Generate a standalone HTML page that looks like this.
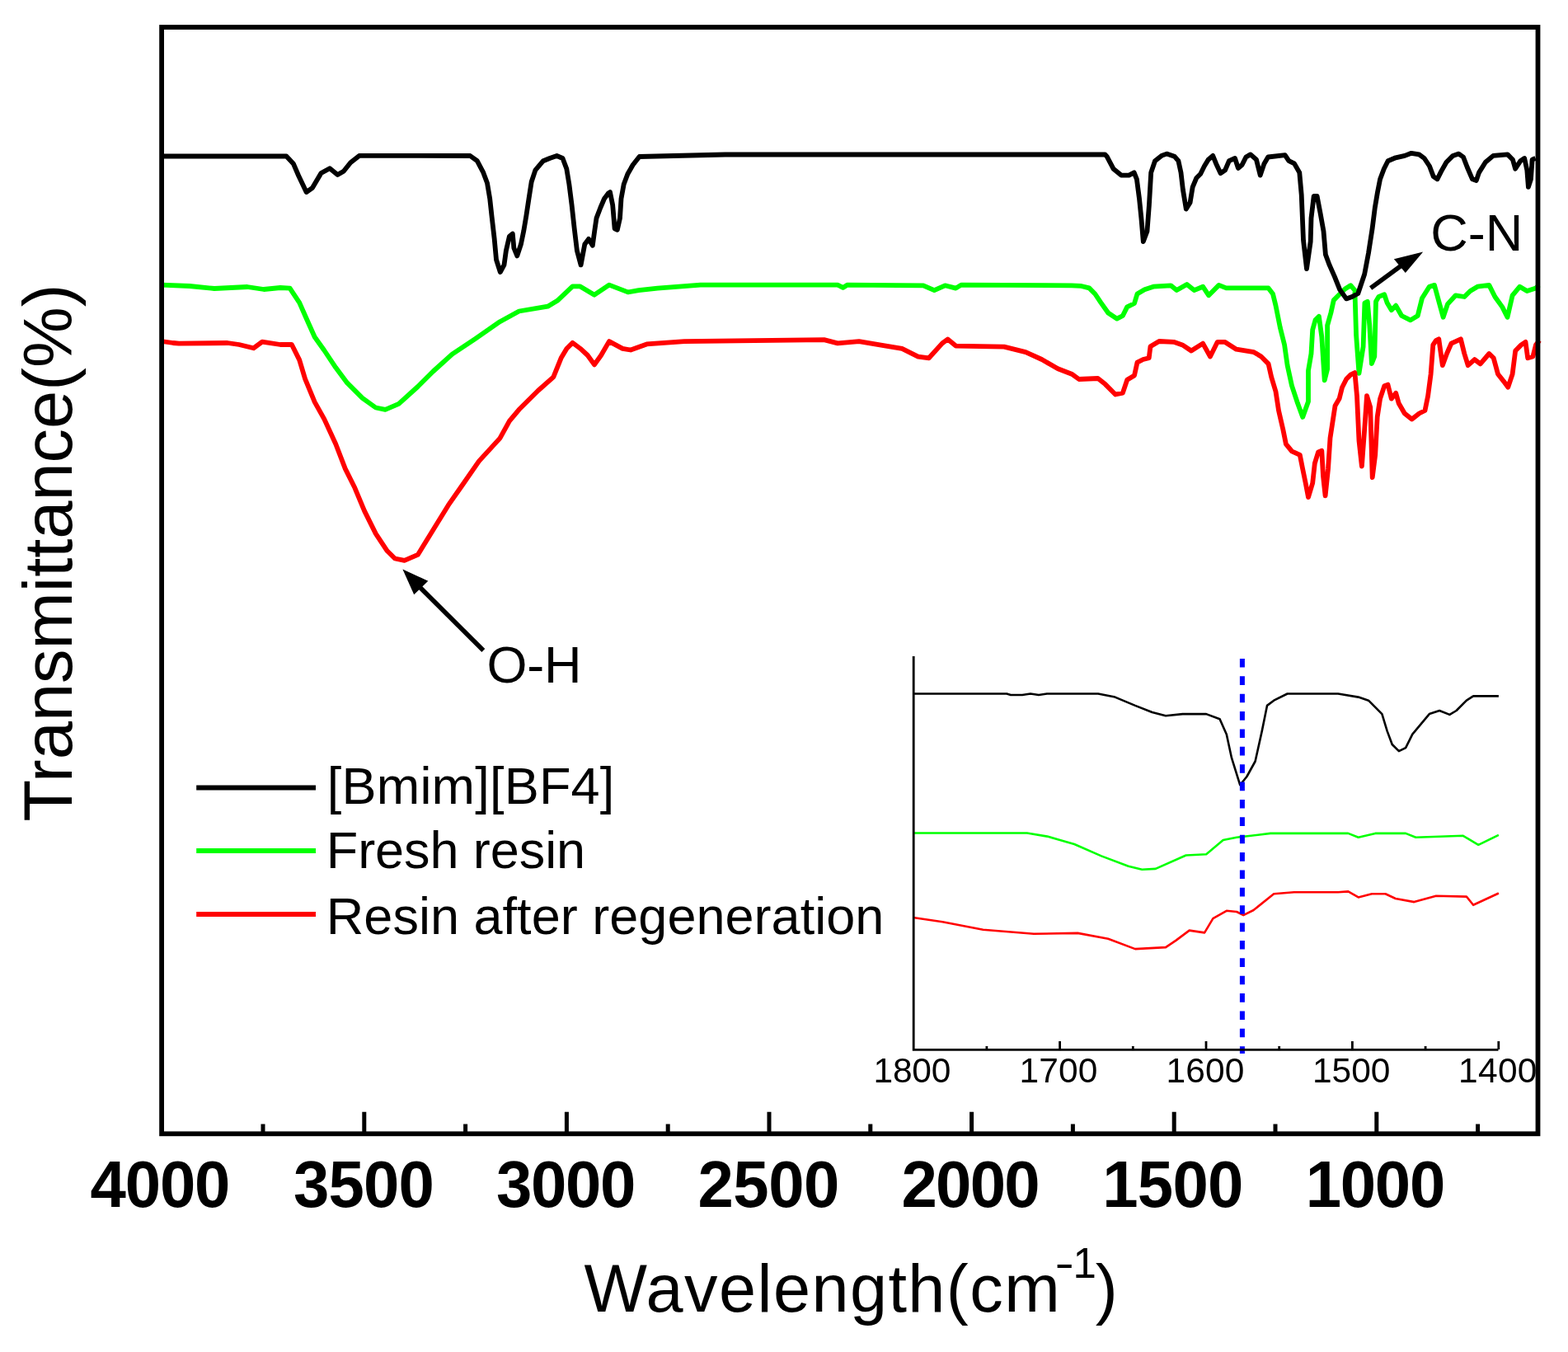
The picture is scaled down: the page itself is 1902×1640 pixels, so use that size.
<!DOCTYPE html>
<html><head><meta charset="utf-8"><title>FTIR spectra</title><style>
html,body{margin:0;padding:0;background:#fff;width:1902px;height:1640px;overflow:hidden}
svg{display:block}
text{font-family:"Liberation Sans",Arial,Helvetica,sans-serif;fill:#000}
</style></head><body>
<svg width="1902" height="1640" viewBox="0 0 1902 1640">
<rect x="0" y="0" width="1902" height="1640" fill="#fff"/>
<g fill="none" stroke-width="5.8" stroke-linejoin="round" stroke-linecap="butt">
<path stroke="#00ff00" d="M196.0,345.6 L230.0,347.0 L260.0,350.0 L300.0,348.0 L320.0,351.0 L340.0,349.0 L351.6,349.7 L363.2,367.1 L372.4,388.0 L381.7,408.8 L393.3,425.0 L407.2,445.8 L421.1,464.4 L439.6,482.9 L455.8,494.5 L467.4,496.8 L483.7,489.9 L506.8,469.0 L525.4,450.5 L548.5,429.6 L576.3,411.1 L606.4,390.2 L629.6,377.5 L664.4,371.7 L676.0,364.8 L694.5,347.4 L703.8,347.4 L721.0,357.7 L738.9,345.6 L761.7,354.4 L774.7,352.2 L797.6,349.6 L849.7,345.6 L1016.0,345.6 L1022.5,348.9 L1028.0,345.6 L1120.0,346.3 L1133.3,352.2 L1146.3,346.3 L1159.4,349.6 L1165.9,345.6 L1300.0,346.3 L1310.6,346.8 L1321.2,349.4 L1328.3,356.5 L1335.4,367.1 L1344.2,379.5 L1354.8,386.6 L1361.9,383.0 L1367.2,372.4 L1376.0,368.0 L1379.5,356.5 L1388.4,351.2 L1399.0,347.7 L1420.2,346.3 L1427.3,352.1 L1439.7,345.0 L1448.5,352.1 L1459.1,347.7 L1466.2,358.3 L1478.5,345.9 L1487.4,349.4 L1538.6,349.4 L1544.0,356.5 L1547.5,370.7 L1552.8,397.2 L1558.1,418.4 L1561.6,443.1 L1567.0,467.9 L1574.0,489.1 L1580.2,505.9 L1587.0,487.0 L1587.0,449.5 L1590.5,429.0 L1592.2,400.0 L1595.6,388.0 L1599.9,383.8 L1603.3,408.5 L1606.7,461.4 L1610.1,447.8 L1610.1,394.9 L1614.4,379.5 L1617.8,364.1 L1624.6,357.3 L1631.5,350.5 L1638.3,346.2 L1643.4,352.2 L1645.1,406.8 L1648.5,452.9 L1653.6,420.5 L1655.4,367.6 L1658.8,365.8 L1661.3,394.9 L1663.9,441.0 L1667.3,432.4 L1669.0,365.8 L1672.4,359.9 L1679.2,357.3 L1682.7,367.6 L1687.8,376.1 L1693.2,370.7 L1700.2,383.0 L1710.9,388.4 L1719.7,383.0 L1725.0,361.8 L1733.8,347.7 L1740.0,345.9 L1745.3,365.4 L1750.6,384.8 L1756.0,368.9 L1765.7,358.3 L1776.3,360.0 L1783.4,353.0 L1792.2,347.7 L1806.3,345.9 L1813.4,360.0 L1822.3,372.4 L1828.5,384.8 L1834.6,358.3 L1843.5,347.7 L1852.3,353.0 L1863.0,349.5 L1866.5,345.9"/>
<path stroke="#ff0000" d="M196.0,414.0 L210.0,416.0 L217.0,416.7 L276.0,416.0 L290.0,418.0 L307.5,422.3 L318.0,414.6 L340.0,418.0 L353.9,418.0 L363.2,436.6 L370.1,459.7 L381.7,487.6 L393.3,508.4 L407.2,538.5 L418.8,568.6 L430.4,591.8 L442.0,619.6 L455.8,647.4 L469.7,668.3 L479.0,677.5 L490.6,679.9 L506.8,672.9 L525.4,642.8 L543.9,612.7 L560.1,589.5 L581.0,559.4 L606.4,531.6 L618.0,510.7 L629.6,496.8 L652.8,473.7 L671.3,457.4 L680.6,434.3 L687.5,422.7 L694.5,415.7 L703.8,422.7 L712.8,431.0 L721.0,442.4 L729.1,431.0 L738.9,414.1 L755.2,422.9 L765.0,424.5 L784.5,417.4 L830.2,414.1 L999.6,412.1 L1016.0,416.4 L1042.0,414.1 L1074.6,419.6 L1094.2,422.9 L1113.7,432.7 L1126.8,434.3 L1143.0,416.4 L1149.6,411.5 L1159.4,419.6 L1218.0,420.6 L1244.1,427.1 L1263.7,436.0 L1283.2,447.3 L1300.0,453.7 L1308.8,460.0 L1331.8,459.0 L1340.7,466.1 L1353.0,478.5 L1361.9,476.7 L1367.2,460.8 L1376.0,455.5 L1379.5,439.6 L1386.6,436.0 L1393.7,434.3 L1395.5,420.2 L1406.0,414.0 L1423.7,414.8 L1434.3,418.4 L1445.0,425.5 L1459.1,416.6 L1468.0,432.5 L1476.8,414.8 L1485.6,414.8 L1499.7,423.7 L1521.0,427.2 L1529.8,432.5 L1538.6,441.4 L1542.2,457.3 L1547.5,475.0 L1551.0,497.9 L1556.3,520.9 L1559.9,538.6 L1567.0,547.4 L1576.8,551.9 L1580.2,569.0 L1583.7,586.0 L1587.0,603.1 L1592.2,586.0 L1594.8,562.2 L1599.0,548.5 L1603.3,546.8 L1605.0,577.5 L1607.6,601.4 L1611.0,569.0 L1613.5,531.4 L1616.1,514.4 L1619.5,492.2 L1624.6,483.6 L1628.0,470.0 L1633.2,459.7 L1638.3,454.6 L1643.4,452.0 L1646.0,480.2 L1648.5,534.8 L1651.9,565.6 L1655.4,517.8 L1658.0,480.2 L1662.2,493.9 L1664.7,579.2 L1668.2,551.9 L1670.7,505.8 L1674.1,483.6 L1679.2,468.3 L1683.5,466.6 L1687.8,483.6 L1693.2,476.8 L1696.7,489.2 L1703.8,501.5 L1712.6,508.6 L1721.5,501.5 L1728.5,498.0 L1732.1,480.3 L1735.6,453.8 L1738.3,418.4 L1741.8,413.1 L1745.3,411.3 L1749.8,443.2 L1755.0,429.0 L1760.4,416.6 L1771.9,411.3 L1776.3,429.0 L1780.7,443.2 L1788.7,436.1 L1795.7,441.4 L1806.3,429.0 L1811.7,434.3 L1817.0,453.8 L1824.0,462.6 L1829.3,469.7 L1834.6,453.8 L1838.2,425.5 L1845.2,418.4 L1850.5,414.9 L1853.2,434.3 L1859.4,432.5 L1863.0,418.4 L1867.4,413.0"/>
<path stroke="#000" d="M196.0,189.5 L347.4,189.5 L355.8,198.4 L362.1,213.0 L371.6,233.1 L379.0,227.8 L389.5,210.0 L400.0,204.3 L409.5,212.0 L416.8,207.8 L425.2,197.3 L435.7,188.9 L570.3,189.0 L578.8,195.2 L586.3,209.4 L591.0,222.0 L594.2,241.0 L596.6,263.0 L599.7,289.9 L602.0,315.0 L606.8,330.0 L611.5,321.4 L613.9,304.0 L617.9,286.7 L621.8,283.6 L623.4,301.0 L627.3,310.4 L632.0,296.0 L635.2,280.4 L638.4,261.5 L641.5,241.0 L644.7,220.5 L649.4,206.3 L658.9,195.2 L666.8,192.0 L675.4,189.0 L682.5,192.0 L687.3,204.7 L690.4,223.6 L693.6,248.9 L696.7,277.3 L699.9,304.0 L704.6,321.4 L709.3,296.2 L714.0,289.9 L718.8,297.8 L721.2,280.4 L723.5,264.6 L728.3,252.0 L733.0,241.0 L737.7,234.7 L740.0,233.0 L743.2,248.9 L745.6,277.3 L748.8,278.8 L752.0,264.6 L753.5,241.0 L756.7,223.6 L761.4,211.0 L767.7,200.0 L775.6,190.0 L879.7,187.5 L1340.5,187.5 L1342.6,189.7 L1350.5,204.7 L1360.0,212.6 L1369.4,212.6 L1375.7,209.4 L1378.9,217.3 L1382.0,241.0 L1384.4,264.6 L1386.8,293.0 L1391.5,280.4 L1393.9,248.9 L1396.2,209.4 L1401.0,195.2 L1408.9,188.9 L1415.2,186.6 L1424.6,189.7 L1429.4,195.2 L1432.5,209.4 L1434.9,230.0 L1438.8,253.6 L1443.6,245.7 L1446.7,226.8 L1451.4,215.7 L1456.2,211.0 L1460.9,201.5 L1465.6,193.7 L1471.2,188.9 L1475.1,198.4 L1480.6,210.2 L1486.1,206.3 L1490.9,195.2 L1498.0,192.0 L1501.9,203.9 L1506.6,200.0 L1511.4,190.5 L1516.9,187.4 L1524.0,193.7 L1528.7,212.6 L1533.5,198.4 L1538.2,190.5 L1558.7,188.1 L1563.4,195.2 L1570.0,198.4 L1576.3,209.4 L1578.7,236.2 L1581.0,291.5 L1585.0,326.2 L1589.7,293.0 L1590.5,264.6 L1593.7,237.8 L1597.6,237.8 L1601.5,258.3 L1605.5,280.4 L1607.9,308.8 L1612.6,321.4 L1618.9,335.6 L1625.2,351.4 L1633.1,362.4 L1640.0,360.0 L1647.3,356.0 L1655.2,332.5 L1660.0,307.0 L1664.6,277.3 L1667.8,252.0 L1671.0,233.0 L1674.1,217.3 L1678.8,204.7 L1683.6,195.2 L1693.0,191.3 L1704.0,188.9 L1712.0,185.8 L1721.4,187.4 L1727.7,192.0 L1734.0,201.5 L1738.8,214.2 L1743.5,217.3 L1748.2,207.9 L1754.5,196.8 L1762.4,188.9 L1769.5,186.6 L1775.0,190.5 L1779.8,203.0 L1786.0,217.3 L1790.8,218.9 L1794.0,209.4 L1801.9,196.8 L1811.3,188.9 L1828.7,187.4 L1835.0,193.7 L1838.1,204.7 L1844.4,195.2 L1849.2,192.0 L1852.3,206.3 L1853.9,226.8 L1857.0,217.3 L1858.6,193.7 L1862.6,192.0"/>
</g>
<rect x="196.1" y="33" width="1669.4" height="1342.3" fill="none" stroke="#000" stroke-width="5.8"/>
<path d="M441.8,1348.8 V1375 M687.4,1348.8 V1375 M933.0,1348.8 V1375 M1178.6,1348.8 V1375 M1424.2,1348.8 V1375 M1669.8,1348.8 V1375 M319.0,1363.5 V1375 M564.6,1363.5 V1375 M810.2,1363.5 V1375 M1055.8,1363.5 V1375 M1301.4,1363.5 V1375 M1547.0,1363.5 V1375 M1792.6,1363.5 V1375" stroke="#000" stroke-width="5" fill="none"/>
<text transform="translate(109.6,1463.8) scale(1,1.025)" x="0" y="0" font-size="78" font-weight="bold" textLength="169.9" lengthAdjust="spacing">4000</text>
<text transform="translate(356.0,1463.8) scale(1,1.025)" x="0" y="0" font-size="78" font-weight="bold" textLength="170.9" lengthAdjust="spacing">3500</text>
<text transform="translate(602.0,1463.8) scale(1,1.025)" x="0" y="0" font-size="78" font-weight="bold" textLength="169.5" lengthAdjust="spacing">3000</text>
<text transform="translate(846.6,1463.8) scale(1,1.025)" x="0" y="0" font-size="78" font-weight="bold" textLength="171.7" lengthAdjust="spacing">2500</text>
<text transform="translate(1093.4,1463.8) scale(1,1.025)" x="0" y="0" font-size="78" font-weight="bold" textLength="168.3" lengthAdjust="spacing">2000</text>
<text transform="translate(1337.2,1463.8) scale(1,1.025)" x="0" y="0" font-size="78" font-weight="bold" textLength="171.3" lengthAdjust="spacing">1500</text>
<text transform="translate(1583.8,1463.8) scale(1,1.025)" x="0" y="0" font-size="78" font-weight="bold" textLength="169.5" lengthAdjust="spacing">1000</text>
<text x="708.6" y="1590.9" font-size="81" textLength="577.1" lengthAdjust="spacing">Wavelength(cm</text>
<text x="1328.8" y="1590.9" font-size="81">)</text>
<text transform="translate(1279.5,1550) scale(1.38,1)" x="0" y="0" font-size="51">-</text>
<text x="1301.5" y="1550" font-size="51">1</text>
<text transform="translate(86.5,996.5) rotate(-90)" x="0" y="0" font-size="83">Transmittance(%)</text>
<g stroke-width="5.8">
<line x1="238.2" y1="955.5" x2="383" y2="955.5" stroke="#000"/>
<line x1="238.2" y1="1032" x2="383" y2="1032" stroke="#00ff00"/>
<line x1="238.2" y1="1109" x2="383" y2="1109" stroke="#ff0000"/>
</g>
<text x="396.8" y="975.4" font-size="63" textLength="348.5" lengthAdjust="spacing">[Bmim][BF4]</text>
<text x="395.8" y="1052.6" font-size="63" textLength="314.3" lengthAdjust="spacing">Fresh resin</text>
<text x="395.8" y="1132.6" font-size="63" textLength="676.5" lengthAdjust="spacing">Resin after regeneration</text>
<text x="590.4" y="828" font-size="63" textLength="115.1" lengthAdjust="spacing">O-H</text>
<text x="1735.2" y="304.4" font-size="63" textLength="112.0" lengthAdjust="spacing">C-N</text>
<line x1="586.3" y1="789" x2="508" y2="711" stroke="#000" stroke-width="5.6"/>
<polygon points="488.4,690.4 519.3,704.8 502.2,721.3" fill="#000"/>
<line x1="1662.6" y1="349.5" x2="1700" y2="322" stroke="#000" stroke-width="5.6"/>
<polygon points="1726.2,305.5 1690.9,314.2 1704.8,331" fill="#000"/>
<g fill="none" stroke-width="2.6" stroke-linejoin="round">
<path stroke="#000" d="M1107.6,841.5 L1221.2,841.5 L1226.0,843.0 L1240.0,843.0 L1250.0,841.5 L1260.0,843.0 L1270.0,841.5 L1332.0,841.5 L1352.5,845.6 L1377.0,855.9 L1397.6,864.0 L1414.0,868.2 L1434.5,866.1 L1463.2,866.1 L1479.6,872.3 L1487.8,890.7 L1494.0,919.4 L1504.2,952.2 L1512.4,942.0 L1522.6,923.5 L1530.8,886.6 L1537.0,855.9 L1545.2,849.7 L1561.6,841.5 L1623.1,841.5 L1647.7,845.6 L1660.0,849.7 L1676.4,866.1 L1682.6,886.6 L1688.7,903.0 L1696.9,911.2 L1705.1,907.1 L1713.3,890.7 L1733.8,866.1 L1746.1,862.0 L1758.4,866.9 L1766.6,862.0 L1778.9,849.7 L1787.1,844.4 L1817.9,844.4"/>
<path stroke="#00ff00" d="M1107.6,1010.5 L1245.8,1010.5 L1270.4,1014.6 L1303.2,1024.0 L1336.0,1038.4 L1368.8,1050.7 L1385.3,1054.8 L1401.7,1053.9 L1438.6,1037.5 L1463.2,1036.3 L1483.7,1019.0 L1500.1,1015.8 L1541.1,1010.9 L1635.4,1010.9 L1647.7,1015.8 L1668.2,1010.9 L1705.1,1010.9 L1717.4,1015.8 L1774.8,1013.8 L1793.3,1024.8 L1817.9,1012.9"/>
<path stroke="#ff0000" d="M1107.6,1113.0 L1143.3,1118.3 L1192.5,1127.8 L1254.0,1132.7 L1307.3,1131.9 L1344.2,1138.8 L1377.0,1151.1 L1414.0,1149.1 L1426.3,1140.9 L1442.7,1128.6 L1461.1,1131.4 L1471.4,1114.2 L1487.8,1104.8 L1500.1,1106.0 L1508.3,1110.1 L1520.6,1104.0 L1545.2,1084.3 L1569.8,1082.2 L1623.1,1082.2 L1635.4,1081.4 L1647.7,1088.4 L1664.1,1084.3 L1680.5,1084.3 L1692.8,1090.0 L1715.4,1094.1 L1742.0,1086.7 L1778.9,1087.6 L1787.1,1097.8 L1817.9,1083.5"/>
</g>
<line x1="1506.9" y1="799" x2="1506.9" y2="1278" stroke="#0000ff" stroke-width="6" stroke-dasharray="10.6 10.77"/>
<path d="M1108.2,796 V1273.4 H1817.5" fill="none" stroke="#000" stroke-width="2.8"/>
<path d="M1285.6,1263 V1273 M1463.0,1263 V1273 M1640.4,1263 V1273 M1817.8,1263 V1273 M1196.9,1269 V1273 M1374.3,1269 V1273 M1551.7,1269 V1273 M1729.1,1269 V1273" stroke="#000" stroke-width="2.8" fill="none"/>
<text x="1059.4" y="1313" font-size="42.5" textLength="94.1" lengthAdjust="spacing">1800</text>
<text x="1236.6" y="1313" font-size="42.5" textLength="94.9" lengthAdjust="spacing">1700</text>
<text x="1414.4" y="1313" font-size="42.5" textLength="95.1" lengthAdjust="spacing">1600</text>
<text x="1592.0" y="1313" font-size="42.5" textLength="94.5" lengthAdjust="spacing">1500</text>
<text x="1769.0" y="1313" font-size="42.5" textLength="95.5" lengthAdjust="spacing">1400</text>
</svg>
</body></html>
